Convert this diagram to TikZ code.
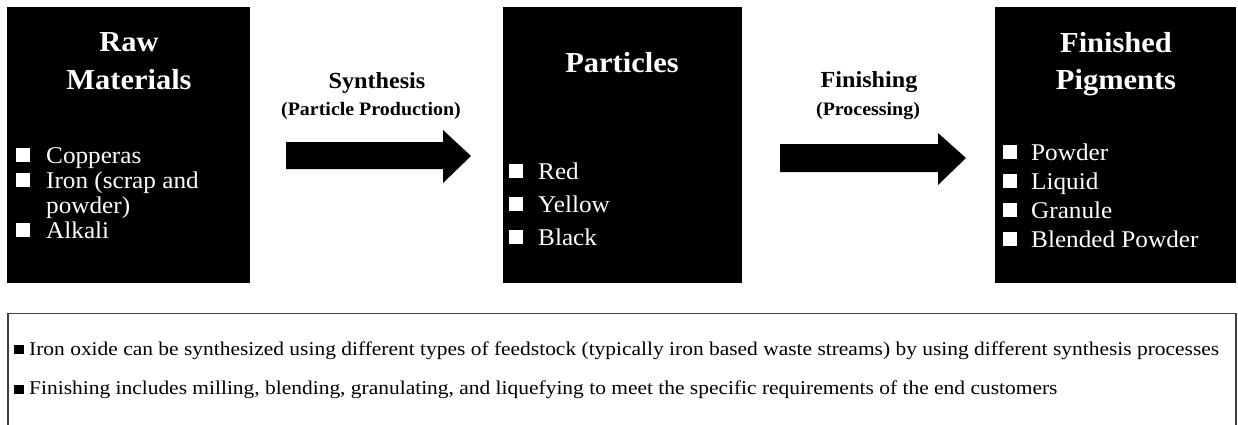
\documentclass[tikz,border=0pt]{standalone}
\usepackage{fontspec}
\setmainfont[FakeStretch=1.05]{Liberation Serif}
\newfontfamily\notefont[FakeStretch=1.1]{Liberation Serif}
\begin{document}
\begin{tikzpicture}[x=1pt,y=-1pt,
  blackbox/.style={fill=black,draw=none},
  boxtitle/.style={text=white,font=\bfseries\fontsize{29}{33}\selectfont,anchor=base,inner sep=0pt},
  item/.style={text=white,font=\fontsize{24}{26}\selectfont,anchor=base west,inner sep=0pt},
  wbullet/.style={fill=white,draw=none},
  arrowlabel/.style={font=\bfseries\fontsize{23}{26}\selectfont,anchor=base,inner sep=0pt},
  arrowsub/.style={font=\bfseries\fontsize{19}{22}\selectfont,anchor=base,inner sep=0pt},
  blockarrow/.style={fill=black,draw=none},
  note/.style={font=\notefont\fontsize{19.5}{22}\selectfont,anchor=base west,inner sep=0pt},
  bbullet/.style={fill=black,draw=none}]
\useasboundingbox (0,0) rectangle (1238,425);
\fill[white] (0,0) rectangle (1238,425);

% boxes
\coordinate (b1a) at (7,7); \coordinate (b1b) at (250,283);
\coordinate (b2a) at (503,7); \coordinate (b2b) at (742,283);
\coordinate (b3a) at (995,7); \coordinate (b3b) at (1236,283);
\path[blackbox] (b1a) rectangle (b1b);
\path[blackbox] (b2a) rectangle (b2b);
\path[blackbox] (b3a) rectangle (b3b);

% box 1
\node[boxtitle] (t1a) at (129,52) {Raw};
\node[boxtitle] (t1b) at (129,90) {Materials};
\foreach \y/\t [count=\i] in {163/Copperas,188/Iron (scrap and,238/Alkali}{
  \path[wbullet] (16,\y-15) rectangle (30,\y-1);
  \node[item] (r\i) at (46,\y) {\t};
}
\node[item] (r4) at (46,213) {powder)};

% box 2
\node[boxtitle] (t2) at (622,73) {Particles};
\foreach \y/\t [count=\i] in {179/Red,212/Yellow,245/Black}{
  \path[wbullet] (509,\y-15) rectangle (523,\y-1);
  \node[item] (p\i) at (538,\y) {\t};
}

% box 3
\node[boxtitle] (t3a) at (1116,53) {Finished};
\node[boxtitle] (t3b) at (1116,90) {Pigments};
\foreach \y/\t [count=\i] in {160/Powder,189/Liquid,218/Granule,247/Blended Powder}{
  \path[wbullet] (1003,\y-15) rectangle (1017,\y-1);
  \node[item] (f\i) at (1031,\y) {\t};
}

% arrows
\path[blockarrow] (286,142) -- (443,142) -- (443,130) -- (471,156) -- (443,183) -- (443,169) -- (286,169) -- cycle;
\path[blockarrow] (780,144) -- (938,144) -- (938,133) -- (966,158) -- (938,185) -- (938,172) -- (780,172) -- cycle;
\node[arrowlabel] (s1) at (377,89) {Synthesis};
\node[arrowsub] (s2) at (371,116) {(Particle Production)};
\node[arrowlabel] (g1) at (869,88) {Finishing};
\node[arrowsub] (g2) at (868,116) {(Processing)};

% note box
\draw[line width=1.2pt,black!75] (8,426) -- (8,313.5) -- (1236,313.5) -- (1236,426);
\path[bbullet] (14,345) rectangle (24,354);
\node[note] (n1) at (29,355) {Iron oxide can be synthesized using different types of feedstock (typically iron based waste streams) by using different synthesis processes};
\path[bbullet] (14,385) rectangle (24,394);
\node[note] (n2) at (29,394) {Finishing includes milling, blending, granulating, and liquefying to meet the specific requirements of the end customers};
\end{tikzpicture}
\end{document}
